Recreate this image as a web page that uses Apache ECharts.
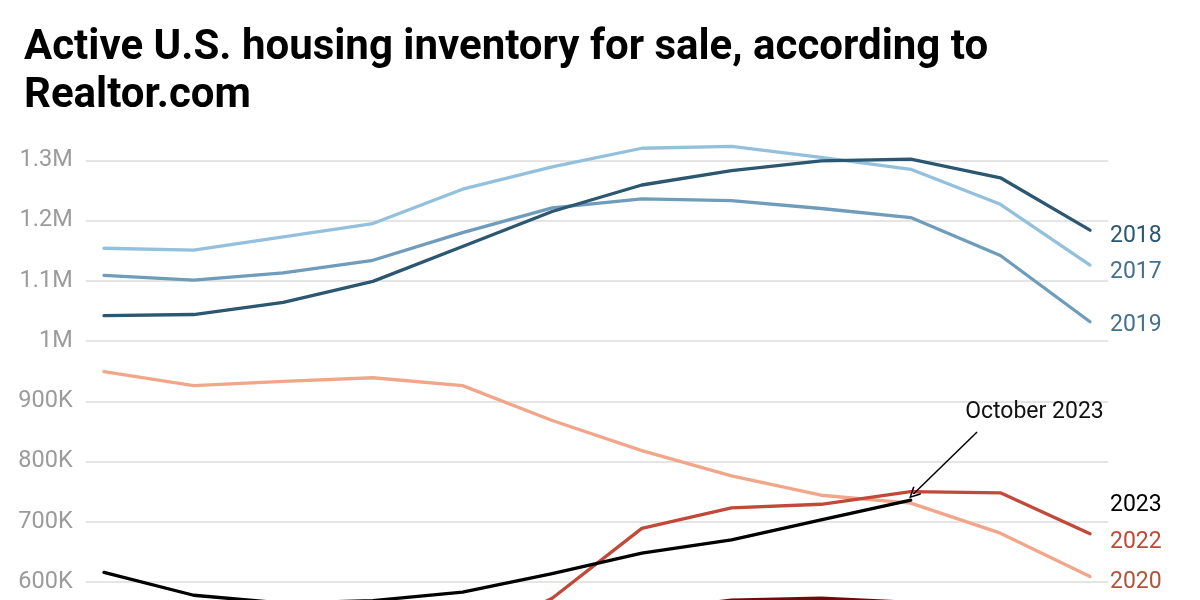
<!DOCTYPE html>
<html>
<head>
<meta charset="utf-8">
<script src="https://cdn.jsdelivr.net/npm/echarts@6/dist/echarts.min.js"></script>
<style>
  html, body { margin: 0; padding: 0; width: 1200px; height: 600px; overflow: hidden; background: #fff; }
  #chart { width: 1200px; height: 800px; }
</style>
</head>
<body>
<div id="chart"></div>
<script>
// ---- Data ----
const months = ['Jan','Feb','Mar','Apr','May','Jun','Jul','Aug','Sep','Oct','Nov','Dec'];
const years = ['2017','2018','2019','2020','2021','2022','2023'];
const y2017 = [1154000,1151000,1173000,1195000,1252000,1289000,1320000,1323000,1305000,1285000,1227000,1126000];
const y2018 = [1042000,1044000,1064000,1099000,1157000,1215000,1259000,1283000,1299000,1302000,1271000,1184000];
const y2019 = [1109000,1101000,1113000,1134000,1180000,1221000,1236000,1233000,1220000,1205000,1142000,1032000];
const y2020 = [949000,926000,933000,939000,926000,868000,818000,776000,744000,731000,681000,609000];
const y2021 = [520000,470000,440000,450000,480000,520000,552000,570000,573000,566000,540000,480000];
const y2022 = [420000,390000,400000,440000,500000,573000,689000,723000,729000,750000,748000,680000];
const y2023 = [616000,578000,565000,569000,583000,614000,648000,670000,703000,736000,null,null];
const yTicks = { min: 300000, max: 1300000, step: 100000 };
const titleText = 'Active U.S. housing inventory for sale, according to\nRealtor.com';
const noteText = 'October 2023';

const lineColors  = { '2017':'#93c0dc', '2018':'#2b5771', '2019':'#6e9cba', '2020':'#f2a689', '2021':'#6b0d0b', '2022':'#c1493a', '2023':'#000000' };
const labelColors = { '2017':'#44718d', '2018':'#2b5771', '2019':'#44718d', '2020':'#ad563c', '2021':'#6b0d0b', '2022':'#c1493a', '2023':'#000000' };
const labelShift  = { '2017':7, '2018':6, '2019':4, '2020':6, '2021':0, '2022':8, '2023':5 };
const seriesData = { '2017':y2017, '2018':y2018, '2019':y2019, '2020':y2020, '2021':y2021, '2022':y2022, '2023':y2023 };

function fmt(v) {
  if (v >= 1000000) return (Math.round(v / 100000) / 10) + 'M';
  return Math.round(v / 1000) + 'K';
}

const drawOrder = ['2017','2019','2018','2020','2021','2022','2023'];
const series = drawOrder.map(function (yr) {
  const arr = seriesData[yr];
  const pts = [];
  arr.forEach(function (v, i) { if (v != null) pts.push([i, v]); });
  const last = pts[pts.length - 1][1];
  const s = {
    name: yr,
    type: 'line',
    data: pts,
    symbol: 'none',
    clip: false,
    smooth: false,
    lineStyle: { width: 3.3, color: lineColors[yr], cap: 'round', join: 'round' },
    itemStyle: { color: lineColors[yr] },
    emphasis: { disabled: true },
    z: yr === '2023' ? 5 : 3,
    markPoint: {
      symbol: 'circle', symbolSize: 0, silent: true,
      data: [{ coord: [months.length - 1, last] }],
      label: {
        show: true, position: 'right', distance: 20,
        offset: [0, labelShift[yr]],
        formatter: yr, color: labelColors[yr],
        fontFamily: 'Roboto', fontSize: 23
      }
    }
  };
  if (yr === '2023') {
    const endIdx = pts[pts.length - 1][0];
    s.markLine = {
      silent: true,
      symbol: ['none', 'path://M10,0 L20,17 L18,19 L10,5 L2,19 L0,17 Z'],
      symbolSize: [11, 12],
      lineStyle: { color: '#000', width: 1.5, type: 'solid' },
      label: { show: false },
      data: [[ { coord: [endIdx + 0.74, last + 113000] }, { coord: [endIdx + 0.03, last + 10000] } ]]
    };
    s.markPoint.data.push({
      coord: [endIdx + 1.38, last + 145000],
      label: {
        show: true, position: 'inside', offset: [0, 0],
        formatter: noteText, color: '#111', fontFamily: 'Roboto', fontSize: 23
      }
    });
  }
  return s;
});

const chart = echarts.init(document.getElementById('chart'), null, { renderer: 'canvas' });
chart.setOption({
  animation: false,
  backgroundColor: '#ffffff',
  title: {
    text: titleText,
    left: 19, top: 19,
    textStyle: { fontFamily: 'Roboto', fontWeight: 'bold', fontSize: 42, lineHeight: 48, color: '#000' }
  },
  grid: { left: 85.7, right: 91.7, top: 160.3, bottom: 37.3, containLabel: false },
  xAxis: {
    type: 'value', min: -0.204, max: 11.204,
    axisLine: { show: false }, axisTick: { show: false }, splitLine: { show: false },
    axisLabel: { show: false }
  },
  yAxis: {
    type: 'value', min: yTicks.min, max: yTicks.max, interval: yTicks.step,
    axisLine: { show: false }, axisTick: { show: false },
    splitLine: { show: true, lineStyle: { color: '#dddddd', width: 1.5 } },
    axisLabel: { formatter: fmt, color: '#9b9b9b', fontFamily: 'Roboto', fontSize: 23.5, margin: 13 }
  },
  series: series
});
</script>
</body>
</html>
